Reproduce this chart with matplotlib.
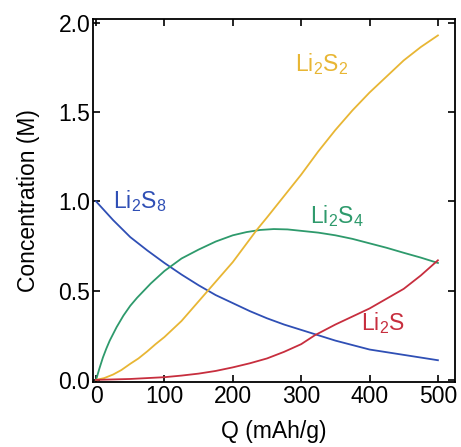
import matplotlib
matplotlib.use("Agg")
from matplotlib import rcParams as rc, pyplot as plt

rc["font.family"] = ["Liberation Sans", "DejaVu Sans"]
rc["mathtext.fontset"] = "custom"
rc["mathtext.rm"] = "Liberation Sans"
rc["mathtext.it"] = "Liberation Sans"

# values
q_li2s8 = [0, 25, 50, 75, 100, 125, 150, 175, 200, 225, 250, 275, 300, 325, 350, 375, 400, 425, 450, 475, 500]
c_li2s8 = [1.0, 0.895, 0.80, 0.725, 0.655, 0.59, 0.53, 0.475, 0.43, 0.385, 0.345, 0.31, 0.28, 0.25, 0.22, 0.195, 0.17, 0.155, 0.14, 0.125, 0.11]

q_li2s4 = [0, 5, 10, 15, 20, 30, 40, 50, 60, 70, 80, 90, 100, 125, 150, 175, 200, 220, 240, 260, 280, 300, 325, 350, 375, 400, 425, 450, 475, 500]
c_li2s4 = [0.0, 0.065, 0.125, 0.175, 0.22, 0.295, 0.36, 0.415, 0.46, 0.50, 0.54, 0.575, 0.61, 0.68, 0.73, 0.775, 0.81, 0.828, 0.84, 0.845, 0.843, 0.835, 0.825, 0.81, 0.79, 0.765, 0.74, 0.712, 0.685, 0.655]

q_li2s2 = [0, 12, 25, 37, 50, 62, 75, 87, 100, 125, 150, 175, 200, 235, 250, 275, 300, 325, 350, 375, 400, 425, 450, 475, 500]
c_li2s2 = [0.0, 0.01, 0.03, 0.055, 0.09, 0.12, 0.16, 0.2, 0.24, 0.33, 0.44, 0.55, 0.66, 0.84, 0.91, 1.03, 1.15, 1.28, 1.40, 1.51, 1.61, 1.70, 1.79, 1.865, 1.93]

q_li2s = [0, 50, 100, 125, 150, 175, 200, 225, 250, 275, 300, 320, 350, 375, 400, 425, 450, 475, 500]
c_li2s = [0.0, 0.005, 0.015, 0.024, 0.035, 0.05, 0.07, 0.093, 0.12, 0.157, 0.20, 0.25, 0.31, 0.355, 0.40, 0.455, 0.51, 0.585, 0.67]

blue = "#2f4fb5"
green = "#2e9a6c"
yellow = "#e8b634"
red = "#c72e3e"

fig = plt.figure(figsize=(4.61, 4.47), dpi=100)
ax = fig.add_axes([0.2017, 0.1454, 0.7853, 0.8121])

ax.plot(q_li2s8, c_li2s8, color=blue, lw=1.3)
ax.plot(q_li2s4, c_li2s4, color=green, lw=1.3)
ax.plot(q_li2s2, c_li2s2, color=yellow, lw=1.3)
ax.plot(q_li2s, c_li2s, color=red, lw=1.3)

fs = 16.5
ax.text(25, 1.0, r"Li$_\mathregular{2}$S$_\mathregular{8}$", color=blue, fontsize=fs, va="center")
ax.text(352, 0.92, r"Li$_\mathregular{2}$S$_\mathregular{4}$", color=green, fontsize=fs, va="center", ha="center")
ax.text(330, 1.77, r"Li$_\mathregular{2}$S$_\mathregular{2}$", color=yellow, fontsize=fs, va="center", ha="center")
ax.text(420, 0.32, r"Li$_\mathregular{2}$S", color=red, fontsize=fs, va="center", ha="center")

ax.set_xlim(-4.5, 525)
ax.set_ylim(-0.012, 2.022)
ax.set_xticks([0, 100, 200, 300, 400, 500])
ax.set_yticks([0.0, 0.5, 1.0, 1.5, 2.0])
ax.set_yticklabels(["0.0", "0.5", "1.0", "1.5", "2.0"])
ax.tick_params(direction="in", top=True, right=True, length=5, width=1.2, labelsize=fs, pad=2)
for s in ax.spines.values():
    s.set_linewidth(1.3)

ax.set_xlabel("Q (mAh/g)", fontsize=fs, labelpad=9)
ax.set_ylabel("Concentration (M)", fontsize=fs, labelpad=13)

plt.savefig("out.png", dpi=100)
